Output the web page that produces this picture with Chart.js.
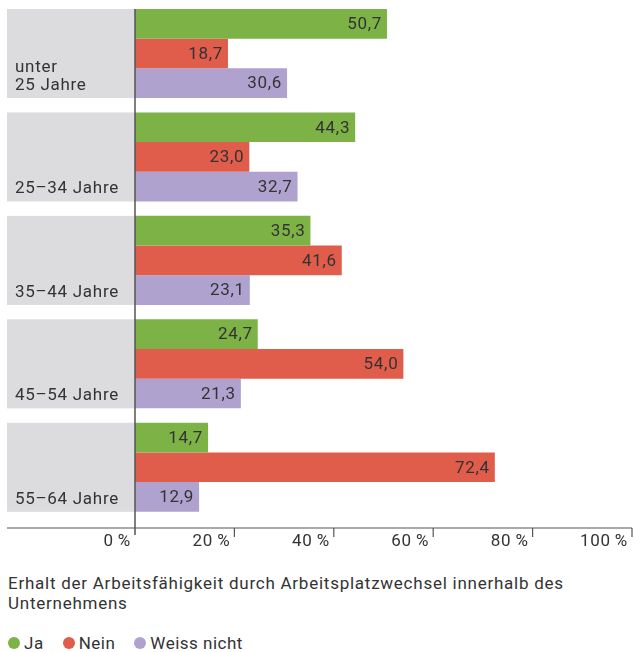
<!DOCTYPE html>
<html>
<head>
<meta charset="utf-8">
<script src="https://cdn.jsdelivr.net/npm/chart.js@4.4.0/dist/chart.umd.min.js"></script>
<style>
  body { margin: 0; background: #fff; font-family: Roboto, sans-serif; color: #333; }
  #wrap { position: relative; width: 635px; height: 652px; }
  #chart { position: absolute; left: 0; top: 0; }
  #title { position: absolute; left: 8px; top: 573px; width: 590px; font-size: 17px; line-height: 20px; letter-spacing: 0.75px; }
  #legend { position: absolute; left: 8px; top: 633px; font-size: 17px; line-height: 20px; letter-spacing: 0.5px; display: flex; }
  #legend span.item { display: flex; align-items: center; margin-right: 19px; }
  #legend span.dot { width: 12px; height: 12px; border-radius: 50%; margin-right: 4px; }
</style>
</head>
<body>
<div id="wrap">
  <canvas id="chart" width="635" height="560"></canvas>
  <div id="title">Erhalt der Arbeitsfähigkeit durch Arbeitsplatzwechsel innerhalb des Unternehmens</div>
  <div id="legend"></div>
</div>
<script>
const categories = [["unter", "25 Jahre"], ["25–34 Jahre"], ["35–44 Jahre"], ["45–54 Jahre"], ["55–64 Jahre"]];
const seriesNames = ["Ja", "Nein", "Weiss nicht"];
const jaValues = [50.7, 44.3, 35.3, 24.7, 14.7];
const neinValues = [18.7, 23.0, 41.6, 54.0, 72.4];
const weissValues = [30.6, 32.7, 23.1, 21.3, 12.9];
const tickValues = [0, 20, 40, 60, 80, 100];
const colors = ["#7db246", "#e05c4b", "#b0a2ce"];

const fmt = (v) => v.toFixed(1).replace(".", ",");
const FONT = "17px Roboto, sans-serif";

// grey label boxes, labels, value labels and the bottom axis
const decor = {
  id: "decor",
  beforeDatasetsDraw(chart) {
    const ctx = chart.ctx;
    const x0 = chart.scales.x.getPixelForValue(0);
    const first = chart.getDatasetMeta(0).data;
    const last = chart.getDatasetMeta(2).data;
    ctx.save();
    ctx.font = FONT;
    ctx.letterSpacing = "0.7px";
    ctx.textAlign = "left";
    ctx.textBaseline = "alphabetic";
    categories.forEach((lab, i) => {
      const a = first[i].getProps(["y", "height"], true);
      const b = last[i].getProps(["y", "height"], true);
      const top = a.y - a.height / 2;
      const bottom = b.y + b.height / 2;
      ctx.fillStyle = "#dcdcde";
      ctx.fillRect(7, top, x0 - 7, bottom - top);
      ctx.fillStyle = "#333";
      lab.forEach((line, k) => {
        ctx.fillText(line, 15, bottom - 8 - (lab.length - 1 - k) * 18);
      });
    });
    ctx.restore();
  },
  afterDatasetsDraw(chart) {
    const ctx = chart.ctx;
    const xs = chart.scales.x;
    ctx.save();
    ctx.font = FONT;
    ctx.letterSpacing = "0.7px";
    ctx.fillStyle = "#333";
    ctx.textAlign = "right";
    ctx.textBaseline = "middle";
    chart.data.datasets.forEach((ds, di) => {
      chart.getDatasetMeta(di).data.forEach((bar, i) => {
        const p = bar.getProps(["x", "y"], true);
        ctx.fillText(fmt(ds.data[i]), p.x - 5, p.y + 1);
      });
    });

    const firstBar = chart.getDatasetMeta(0).data[0].getProps(["y", "height"], true);
    const axisY = chart.chartArea.bottom + 9;
    ctx.strokeStyle = "#555";
    ctx.lineWidth = 1.5;
    ctx.beginPath();
    const x0 = xs.getPixelForValue(0);
    ctx.moveTo(x0, firstBar.y - firstBar.height / 2);
    ctx.lineTo(x0, axisY + 7);
    ctx.stroke();

    ctx.lineWidth = 1.2;
    ctx.beginPath();
    ctx.moveTo(7, axisY);
    ctx.lineTo(xs.getPixelForValue(100), axisY);
    tickValues.forEach((t) => {
      if (t === 0) return;
      const px = xs.getPixelForValue(t);
      ctx.moveTo(px, axisY);
      ctx.lineTo(px, axisY + 9);
    });
    ctx.stroke();

    ctx.textBaseline = "alphabetic";
    tickValues.forEach((t) => {
      ctx.fillText(t + "\u2009%", xs.getPixelForValue(t) - 4, axisY + 18);
    });
    ctx.restore();
  },
};

const chart = new Chart(document.getElementById("chart").getContext("2d"), {
  type: "bar",
  data: {
    labels: categories.map((c) => c.join(" ")),
    datasets: [
      { label: seriesNames[0], data: jaValues, backgroundColor: colors[0] },
      { label: seriesNames[1], data: neinValues, backgroundColor: colors[1] },
      { label: seriesNames[2], data: weissValues, backgroundColor: colors[2] },
    ],
  },
  options: {
    indexAxis: "y",
    responsive: false,
    animation: false,
    layout: { padding: { left: 135, right: 3, top: 1.8, bottom: 41 } },
    datasets: { bar: { categoryPercentage: 0.861, barPercentage: 1, borderWidth: 0 } },
    scales: {
      x: { display: false, min: 0, max: 100 },
      y: { display: false },
    },
    plugins: { legend: { display: false }, tooltip: { enabled: false } },
  },
  plugins: [decor],
});

const legend = document.getElementById("legend");
seriesNames.forEach((name, i) => {
  const item = document.createElement("span");
  item.className = "item";
  item.innerHTML = '<span class="dot" style="background:' + colors[i] + '"></span>' + name;
  legend.appendChild(item);
});
</script>
</body>
</html>
